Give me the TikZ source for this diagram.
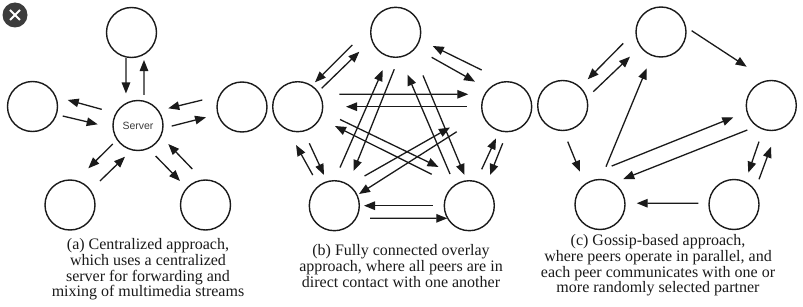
\documentclass[tikz,border=0pt]{standalone}
\usepackage{fontspec}
\setmainfont{Liberation Serif}
\newfontfamily\srvfont{Liberation Sans}
\usetikzlibrary{arrows.meta,calc}
\definecolor{ink}{HTML}{1A1A1A}
\definecolor{btn}{HTML}{3C3C3C}
\tikzset{
  peer/.style={circle, draw=ink, line width=1.4pt, minimum size=50pt, inner sep=0pt, outer sep=0pt},
  arr/.style={draw=ink, line width=1.3pt, -{Triangle[length=11pt,width=8.5pt]}},
  caption/.style={anchor=north, align=center, inner sep=0pt, text=ink, font=\fontsize{16}{15.7}\selectfont},
  closebtn/.style={circle, fill=btn, minimum size=25pt, inner sep=0pt},
  closex/.style={white, line width=2pt},
}
\newcommand\arw[6]{\draw[arr] ($(#1)+(#2:#3pt)$) -- ($(#4)+(#5:#6pt)$);}
\begin{document}
\begin{tikzpicture}[x=1pt,y=1pt]
\useasboundingbox (0,0) rectangle (803,306);
% close button
\node[closebtn] (close) at (15,291) {};
\draw[closex] ($(close)+(-5,-5)$) -- ($(close)+(5,5)$);
\draw[closex] ($(close)+(-5,5)$) -- ($(close)+(5,-5)$);
% ---------- (a) ----------
\node[peer] (Ta)  at (131.5,273.5) {};
\node[peer, font=\srvfont\fontsize{10.5}{12}\selectfont, text=ink!85] (Sa) at (138,180.5) {Server};
\node[peer] (La)  at (32.5,199.5) {};
\node[peer] (Ra)  at (242,199) {};
\node[peer] (BLa) at (70,101) {};
\node[peer] (BRa) at (205.5,101) {};
\arw{Ta}{257.8}{26.1}{Sa}{110.6}{34.2}
\arw{Sa}{78.9}{31.1}{Ta}{294.4}{30.2}
\arw{Sa}{156}{39.7}{La}{10.5}{35.8}
\arw{La}{342.5}{31.7}{Sa}{178.3}{40.3}
\arw{Ra}{170}{40.3}{Sa}{29.6}{34.8}
\arw{Sa}{359}{33.7}{Ra}{196}{37.4}
\arw{Sa}{216.2}{31.3}{BLa}{63.5}{41}
\arw{BLa}{38.7}{38.4}{Sa}{247.4}{33.8}
\arw{Sa}{300.1}{35.3}{BRa}{136.7}{35}
\arw{BRa}{110.1}{38.3}{Sa}{328.6}{35.5}
\node[caption] (capa) at (148,67.7) {(a) Centralized approach,\\ which uses a centralized\\ server for forwarding and\\ mixing of multimedia streams};
% ---------- (b) ----------
\node[peer] (Tb)  at (395.7,273.7) {};
\node[peer] (Lb)  at (297.7,199.3) {};
\node[peer] (Rb)  at (506.7,199.3) {};
\node[peer] (BLb) at (334.3,100.3) {};
\node[peer] (BRb) at (469.3,100.3) {};
\arw{Tb}{196.3}{45.2}{Lb}{54.7}{29.9}
\arw{Lb}{37.5}{30.2}{Tb}{208.1}{41.2}
\arw{Rb}{124.3}{44.4}{Tb}{339.7}{39.5}
\arw{Tb}{325.2}{43.8}{Rb}{141.7}{40.4}
\arw{Lb}{16.6}{43.4}{Rb}{162.1}{40.4}
\arw{Rb}{180}{40}{Lb}{0}{48.3}
\arw{BLb}{81.5}{38.6}{Tb}{251}{39.9}
\arw{Tb}{267.8}{37}{BLb}{61}{39.7}
\arw{BRb}{121.3}{37.1}{Tb}{285.6}{43.8}
\arw{Tb}{302.3}{51.1}{BRb}{98.9}{31.1}
\arw{Lb}{343.2}{44.2}{BRb}{128.5}{49.5}
\arw{BRb}{140.1}{49}{Lb}{332.6}{42}
\arw{BLb}{44.5}{42.4}{Rb}{200.1}{60.4}
\arw{Rb}{206.6}{55.9}{BLb}{25.3}{27.3}
\arw{BLb}{125.1}{37.5}{Lb}{267.5}{38.3}
\arw{Lb}{287.6}{38.4}{BLb}{108.5}{32.4}
\arw{BRb}{71.2}{38.5}{Rb}{251.3}{33.4}
\arw{Rb}{263.8}{36.8}{BRb}{56}{37}
\arw{BRb}{180}{36.6}{BLb}{0}{29.7}
\arw{BLb}{340.6}{37.9}{BRb}{209.8}{25.4}
\node[caption] (capb) at (401,61.7) {(b) Fully connected overlay\\ approach, where all peers are in\\ direct contact with one another};
% ---------- (c) ----------
\node[peer] (Tc)  at (661,274) {};
\node[peer] (Lc)  at (562.7,200.5) {};
\node[peer] (Rc)  at (771.3,200.5) {};
\node[peer] (BLc) at (600,101.5) {};
\node[peer] (BRc) at (734,101.5) {};
\arw{Tc}{2.4}{30.7}{Rc}{122.4}{45.9}
\arw{Tc}{196.7}{39.4}{Lc}{46.3}{36.2}
\arw{Lc}{24.3}{33.6}{Tc}{218.5}{39.6}
\arw{Lc}{277.9}{36.5}{BLc}{121.4}{38.4}
\arw{BLc}{81}{38.3}{Tc}{248.5}{39}
\arw{BLc}{73.1}{40.2}{Rc}{197.3}{39.8}
\arw{Rc}{225.6}{34.3}{BLc}{47.6}{34.5}
\arw{Rc}{251.2}{38.2}{BRc}{65.8}{34.9}
\arw{BRc}{45.2}{35.5}{Rc}{269.6}{41.2}
\arw{BRc}{178}{35.7}{BLc}{2}{36.7}
\node[caption] (capc) at (658,71.7) {(c) Gossip-based approach,\\ where peers operate in parallel, and\\ each peer communicates with one or\\ more randomly selected partner};
\end{tikzpicture}
\end{document}
